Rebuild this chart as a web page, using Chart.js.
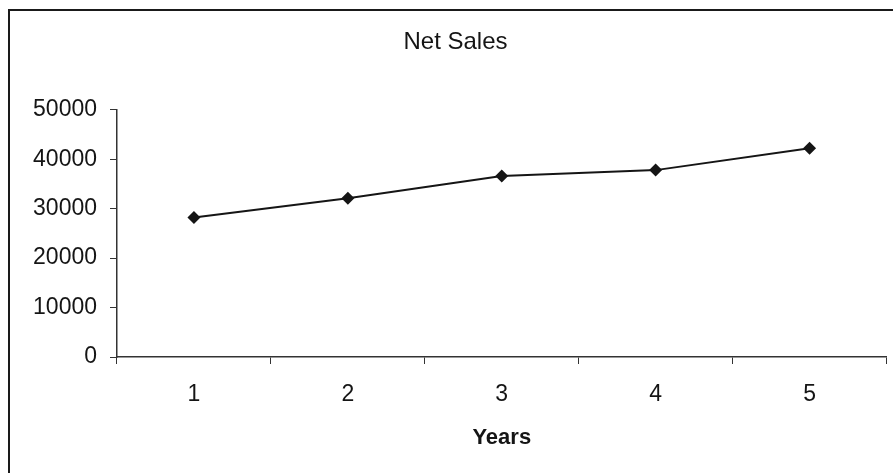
<!DOCTYPE html>
<html>
<head>
<meta charset="utf-8">
<script src="https://cdn.jsdelivr.net/npm/chart.js@4.4.1/dist/chart.umd.min.js"></script>
<style>
  html, body { margin: 0; padding: 0; background: #ffffff; }
  #wrap { position: relative; width: 893px; height: 473px; overflow: hidden; }
  #frame {
    position: absolute; left: 8px; top: 9px; width: 1000px; height: 600px;
    border-left: 2px solid #1a1a1a; border-top: 2px solid #1a1a1a;
    box-sizing: border-box;
  }
  #chart { position: absolute; left: 0; top: 0; }
</style>
</head>
<body>
<div id="wrap">
  <div id="frame"></div>
  <canvas id="chart" width="893" height="473"></canvas>
</div>
<script>
// Net sales per year
const years = ['1', '2', '3', '4', '5'];
const netSales = [28200, 32100, 36600, 37800, 42200];
const yTicks = [0, 10000, 20000, 30000, 40000, 50000];

const chartTitle = 'Net Sales';
const xTitle = 'Years';

const FONT = '"Liberation Sans", Arial, sans-serif';
const INK = '#151515';
const AXIS = '#333333';

new Chart(document.getElementById('chart'), {
  type: 'line',
  data: {
    labels: years,
    datasets: [{
      label: chartTitle,
      data: netSales,
      borderColor: INK,
      backgroundColor: INK,
      borderWidth: 2,
      pointStyle: 'rectRot',
      pointRadius: 6.5,
      pointHoverRadius: 6.5,
      pointBackgroundColor: INK,
      pointBorderColor: INK,
      pointBorderWidth: 0,
      tension: 0,
      fill: false
    }]
  },
  options: {
    responsive: false,
    animation: false,
    events: [],
    layout: { padding: { left: 24, right: 6, top: 10, bottom: 0 } },
    plugins: {
      legend: { display: false },
      tooltip: { enabled: false },
      title: {
        display: true,
        text: chartTitle,
        color: INK,
        font: { family: FONT, size: 24, weight: 'normal', lineHeight: 1.2 },
        padding: { top: 18, bottom: 53 }
      }
    },
    scales: {
      x: {
        type: 'category',
        offset: true,
        grid: {
          display: true,
          offset: true,
          drawOnChartArea: false,
          drawTicks: true,
          tickLength: 7,
          color: AXIS,
          lineWidth: 1
        },
        border: { display: true, color: AXIS, width: 1.5 },
        ticks: {
          color: INK,
          padding: 17,
          font: { family: FONT, size: 23 }
        },
        title: {
          display: true,
          text: xTitle,
          color: INK,
          font: { family: FONT, size: 22, weight: 'bold' },
          padding: { top: 22, bottom: 22 }
        },
        afterFit: (scale) => { scale.height = 473 - 357; }
      },
      y: {
        min: 0,
        max: 50000,
        afterBuildTicks: (scale) => { scale.ticks = yTicks.map(v => ({ value: v })); },
        grid: {
          display: true,
          drawOnChartArea: false,
          drawTicks: true,
          tickLength: 7,
          color: AXIS,
          lineWidth: 1
        },
        border: { display: true, color: AXIS, width: 1.5 },
        ticks: {
          color: INK,
          padding: 13,
          font: { family: FONT, size: 23 },
          callback: (v) => String(v)
        },
        afterFit: (scale) => { scale.width = 117 - 24; }
      }
    }
  }
});
</script>
</body>
</html>
